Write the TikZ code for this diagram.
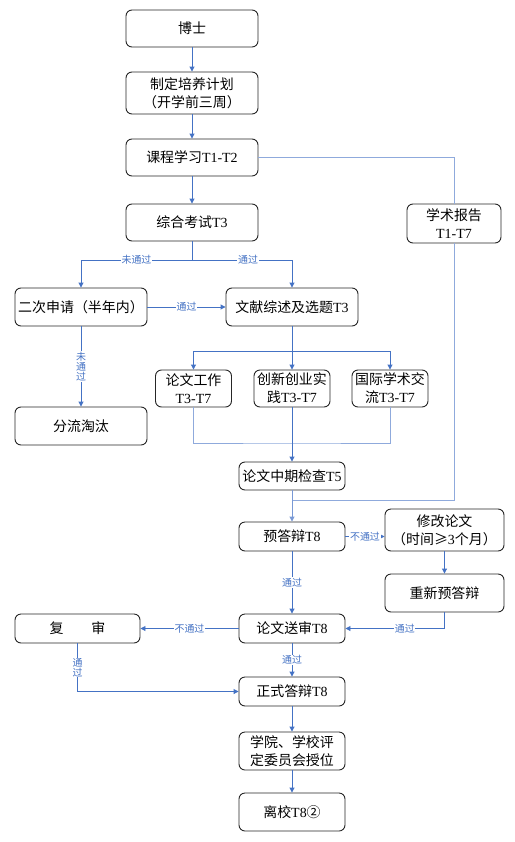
\documentclass[tikz,border=0pt]{standalone}
\usepackage{fontspec}
\setmainfont{Liberation Serif}
\newfontfamily\cjk{Noto Sans CJK SC}
\usetikzlibrary{arrows.meta}
\definecolor{LineBlue}{HTML}{4472C4}
\definecolor{PaleBlue}{HTML}{8FAADC}
\newcommand{\tn}[1]{{\rmfamily #1}}

\begin{document}
\begin{tikzpicture}[x=1bp, y=-1bp,
    stage/.style={draw=black!85, line width=0.9bp, rounded corners=6bp, align=center,
        inner sep=0pt, font=\cjk\fontsize{14}{18}\selectfont},
    wide/.style={stage, minimum width=132bp, minimum height=37bp},
    mid/.style={stage, minimum width=106bp, minimum height=29bp},
    small/.style={stage, minimum width=76bp, minimum height=37bp},
    side/.style={stage, minimum width=119bp, minimum height=40bp},
    arr/.style={draw=LineBlue, line width=0.9bp, -{Triangle[length=5bp,width=5bp]}},
    pale/.style={draw=PaleBlue, line width=1bp},
    tag/.style={font=\cjk\fontsize{10}{10}\selectfont, text=LineBlue, fill=white,
        inner sep=0.6bp, align=center}]
    \useasboundingbox (0,0) rectangle (515,842);

    % Main column
    \node[wide] (boshi) at (192,28.5) {博士};
    \node[wide, minimum height=42bp] (jihua) at (192,93) {制定培养计划\\（开学前三周）};
    \node[wide] (kecheng) at (192,157.5) {课程学习\tn{T1-T2}};
    \node[wide] (kaoshi) at (192,222.5) {综合考试\tn{T3}};
    \node[stage, minimum width=94bp, minimum height=39bp] (baogao) at (454,223.5) {学术报告\\\tn{T1-T7}};

    % Second application
    \node[wide, minimum height=38bp] (shenqing) at (81,307) {二次申请（半年内）};
    \node[wide, minimum height=38bp] (wenxian) at (292,307) {文献综述及选题\tn{T3}};
    \node[wide, minimum height=38bp] (fenliu) at (81,426) {分流淘汰};

    % Parallel work
    \node[small] (lunwen) at (193.5,388.5) {论文工作\\\tn{T3-T7}};
    \node[small] (chuangxin) at (292,388.5) {创新创业实\\践\tn{T3-T7}};
    \node[small] (jiaoliu) at (390,388.5) {国际学术交\\流\tn{T3-T7}};

    % Defence
    \node[mid, minimum height=28bp] (zhongqi) at (292,476) {论文中期检查\tn{T5}};
    \node[mid] (yudabian) at (292,536.5) {预答辩\tn{T8}};
    \node[side, minimum height=42bp] (xiugai) at (444.5,530) {修改论文\\（时间≥\tn{3}个月）};
    \node[side, minimum height=38bp] (chongxin) at (444.5,593) {重新预答辩};
    \node[mid] (songshen) at (292,628.5) {论文送审\tn{T8}};
    \node[stage, minimum width=125bp, minimum height=29bp] (fushen) at (77.5,628.5) {复\qquad 审};
    \node[mid] (zhengshi) at (292,691.5) {正式答辩\tn{T8}};
    \node[mid, minimum height=38bp] (shouwei) at (292,751) {学院、学校评\\定委员会授位};
    \node[mid, minimum height=38bp] (lixiao) at (292,812) {离校\tn{T8}②};

    % Junctions
    \coordinate (split1) at (192,260);
    \coordinate (split2) at (292,351);
    \coordinate (merge) at (292,443);
    \coordinate (join) at (292,500);

    % Arrows
    \draw[arr] (boshi) -- (jihua);
    \draw[arr] (jihua) -- (kecheng);
    \draw[arr] (kecheng) -- (kaoshi);
    \draw[pale] (kecheng.east) -| (baogao.north);
    \draw[pale] (baogao.south) |- (join);
    \draw[arr] (kaoshi.south) -- (split1) -| node[tag, pos=0.25] {未通过} (shenqing.north);
    \draw[arr] (split1) -| node[tag, pos=0.28] {通过} (wenxian.north);
    \draw[arr] (shenqing) -- node[tag] {通过} (wenxian);
    \draw[arr] (shenqing) -- node[tag] {未\\通\\过} (fenliu);
    \draw[arr] (wenxian.south) -- (split2) -| (lunwen.north);
    \draw[arr] (split2) -| (jiaoliu.north);
    \draw[arr] (split2) -- (chuangxin.north);
    \draw[pale] (lunwen.south) |- (merge) -| (jiaoliu.south);
    \draw[arr] (chuangxin.south) -- (zhongqi.north);
    \draw[arr, draw=PaleBlue!70!LineBlue] (zhongqi) -- (yudabian);
    \draw[arr] (yudabian.east) -- node[tag] {不通过} (yudabian.east -| xiugai.west);
    \draw[arr] (xiugai) -- (chongxin);
    \draw[arr] (yudabian) -- node[tag] {通过} (songshen);
    \draw[arr] (chongxin.south) |- node[tag, pos=0.7] {通过} (songshen.east);
    \draw[arr] (songshen) -- node[tag] {不通过} (fushen);
    \draw[arr] (fushen.south) |- node[tag, pos=0.25] {通\\过} (zhengshi.west);
    \draw[arr] (songshen) -- node[tag] {通过} (zhengshi);
    \draw[arr] (zhengshi) -- (shouwei);
    \draw[arr] (shouwei) -- (lixiao);
\end{tikzpicture}
\end{document}
